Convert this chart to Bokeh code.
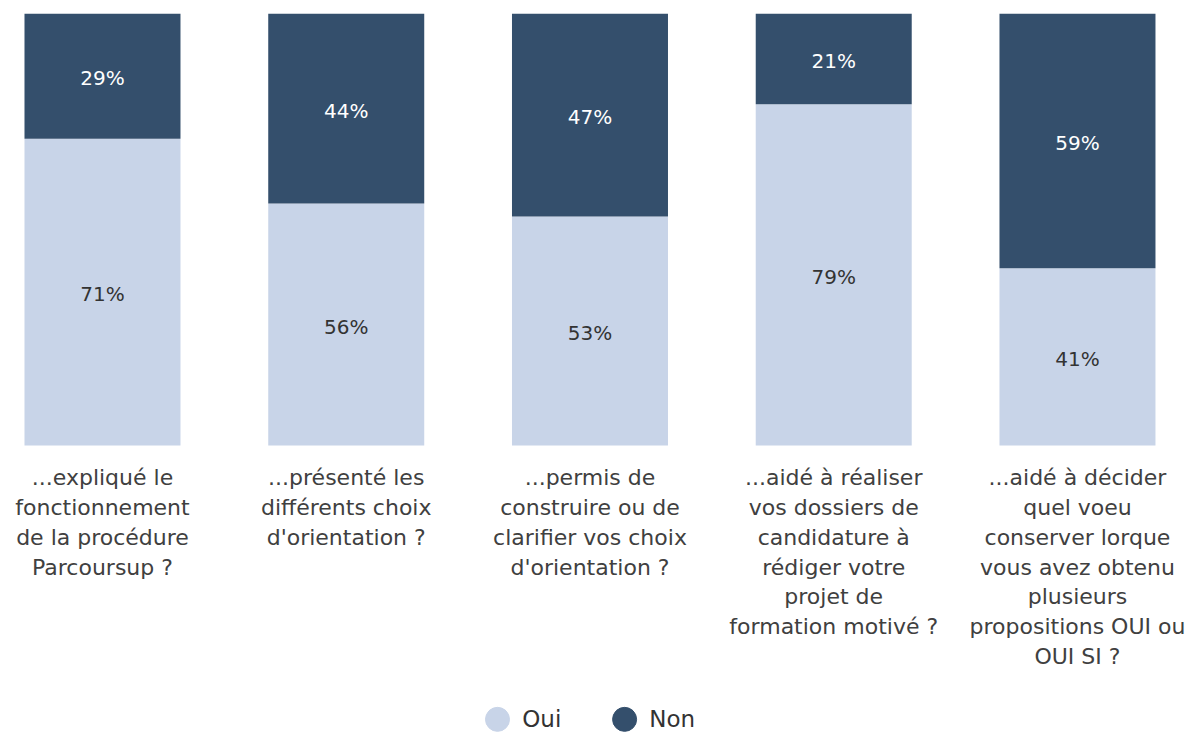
from bokeh.plotting import figure
from bokeh.models import ColumnDataSource, Range1d
from bokeh.core.properties import value
from bokeh.embed import file_html
from bokeh.resources import INLINE

categories = [
    "...expliqué le\nfonctionnement\nde la procédure\nParcoursup ?",
    "...présenté les\ndifférents choix\nd'orientation ?",
    "...permis de\nconstruire ou de\nclarifier vos choix\nd'orientation ?",
    "...aidé à réaliser\nvos dossiers de\ncandidature à\nrédiger votre\nprojet de\nformation motivé ?",
    "...aidé à décider\nquel voeu\nconserver lorque\nvous avez obtenu\nplusieurs\npropositions OUI ou\nOUI SI ?",
]
oui = [71, 56, 53, 79, 41]
non = [29, 44, 47, 21, 59]
series_names = ["Oui", "Non"]

OUI_COLOR = "#c8d4e8"
NON_COLOR = "#344f6c"
FONT = "DejaVu Sans"

xs = list(range(len(categories)))
src = ColumnDataSource(dict(
    x=xs,
    oui=oui,
    non=non,
    oui_top=oui,
    non_top=[o + n for o, n in zip(oui, non)],
    oui_mid=[o / 2 for o in oui],
    non_mid=[o + n / 2 for o, n in zip(oui, non)],
    oui_lbl=[f"{v}%" for v in oui],
    non_lbl=[f"{v}%" for v in non],
    cat=categories,
))

p = figure(width=1193, height=732, output_backend="svg", toolbar_location=None,
           x_axis_type=None, y_axis_type=None,
           x_range=Range1d(-0.3856, 4.476), y_range=Range1d(-66.44, 100),
           min_border_left=8, min_border_right=0, min_border_top=13, min_border_bottom=0)
p.outline_line_color = None
p.grid.visible = False
p.background_fill_color = "white"

p.vbar(x="x", bottom=0, top="oui_top", width=0.64, source=src,
       fill_color=OUI_COLOR, line_color=None)
p.vbar(x="x", bottom="oui_top", top="non_top", width=0.64, source=src,
       fill_color=NON_COLOR, line_color=None)

p.text(x="x", y="oui_mid", text="oui_lbl", source=src, text_align="center",
       text_baseline="middle", text_font=value(FONT), text_font_size="20px",
       text_color="#333333", y_offset=2)
p.text(x="x", y="non_mid", text="non_lbl", source=src, text_align="center",
       text_baseline="middle", text_font=value(FONT), text_font_size="20px",
       text_color="#ffffff", y_offset=2)

p.text(x="x", y=-4.6, text="cat", source=src, text_align="center",
       text_baseline="top", text_font=value(FONT), text_font_size="22px",
       text_line_height=1.19, text_color="#404040")

# legend
leg = ColumnDataSource(dict(
    x=[1.6206, 2.142],
    tx=[1.722, 2.243],
    y=[-63.4, -63.4],
    c=[OUI_COLOR, NON_COLOR],
    name=series_names,
))
p.scatter(x="x", y="y", size=24, color="c", source=leg)
p.text(x="tx", y="y", text="name", source=leg, text_baseline="middle",
       text_font=value(FONT), text_font_size="23px", text_color="#333333")

open("out.html", "w").write(file_html(p, INLINE))
